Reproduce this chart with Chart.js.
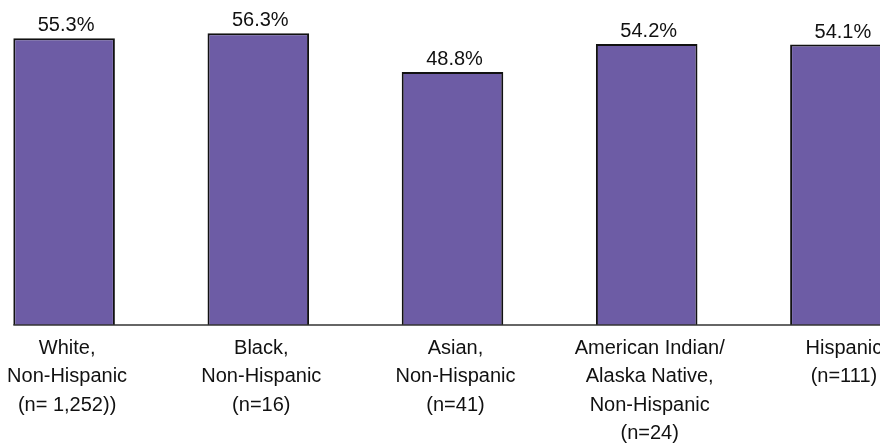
<!DOCTYPE html>
<html>
<head>
<meta charset="utf-8">
<script src="https://cdn.jsdelivr.net/npm/chart.js@4.4.1/dist/chart.umd.min.js"></script>
<style>
  html, body { margin: 0; padding: 0; background: #fff; overflow: hidden; }
  body { width: 880px; height: 447px; position: relative; }
  #wrap { position: absolute; left: -33px; top: 0; width: 971px; height: 447px; }
</style>
</head>
<body>
<div id="wrap"><canvas id="chart"></canvas></div>
<script>
// Share of respondents by race/ethnicity (percent)
const categories = [
  ["White,", "Non-Hispanic", "(n= 1,252))"],
  ["Black,", "Non-Hispanic", "(n=16)"],
  ["Asian,", "Non-Hispanic", "(n=41)"],
  ["American Indian/", "Alaska Native,", "Non-Hispanic", "(n=24)"],
  ["Hispanic", "(n=111)"]
];
const percentValues = [55.3, 56.3, 48.8, 54.2, 54.1];

const FONT = { family: "'Liberation Sans', Arial, sans-serif", size: 20 };

// Percentage label above each bar
const valueLabels = {
  id: 'valueLabels',
  afterDatasetsDraw(chart) {
    const ctx = chart.ctx;
    const meta = chart.getDatasetMeta(0);
    ctx.save();
    ctx.font = `${FONT.size}px ${FONT.family}`;
    ctx.fillStyle = '#111';
    ctx.textAlign = 'center';
    ctx.textBaseline = 'alphabetic';
    meta.data.forEach((bar, i) => {
      ctx.fillText(percentValues[i].toFixed(1) + '%', bar.x + 2, bar.y - 7);
    });
    ctx.restore();
  }
};

// Baseline starting at the left edge of the first bar
const baseline = {
  id: 'baseline',
  afterDatasetsDraw(chart) {
    const ctx = chart.ctx;
    const first = chart.getDatasetMeta(0).data[0];
    const y = chart.scales.y.getPixelForValue(0);
    ctx.save();
    ctx.strokeStyle = '#333';
    ctx.lineWidth = 1.5;
    ctx.beginPath();
    ctx.moveTo(first.x - first.width / 2, y);
    ctx.lineTo(chart.chartArea.right, y);
    ctx.stroke();
    ctx.restore();
  }
};

new Chart(document.getElementById('chart'), {
  type: 'bar',
  data: {
    labels: categories,
    datasets: [{
      data: percentValues,
      backgroundColor: '#6d5ca5',
      borderColor: '#111',
      borderWidth: 2,
      borderSkipped: 'start',
      categoryPercentage: 1,
      barPercentage: 0.523
    }]
  },
  options: {
    responsive: true,
    maintainAspectRatio: false,
    animation: false,
    layout: { padding: 0 },
    plugins: { legend: { display: false }, tooltip: { enabled: false } },
    scales: {
      x: {
        grid: { display: false, drawTicks: false },
        border: { display: false },
        ticks: {
          color: '#111',
          font: { family: FONT.family, size: FONT.size, lineHeight: 1.425 },
          padding: 9,
          labelOffset: 3,
          maxRotation: 0,
          autoSkip: false
        },
        afterFit(scale) { scale.height = 122; }
      },
      y: {
        display: false,
        min: 0,
        max: 62.7
      }
    }
  },
  plugins: [valueLabels, baseline]
});
</script>
</body>
</html>
